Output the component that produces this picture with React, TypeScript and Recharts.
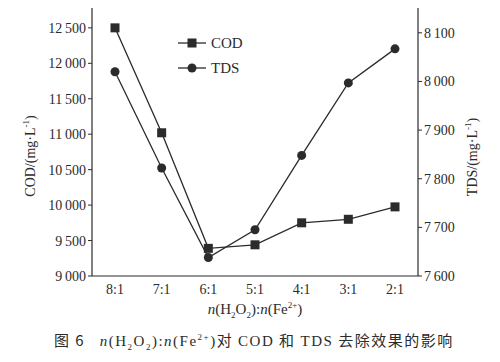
import React from "react";
import { LineChart, Line, XAxis, YAxis } from "recharts";

const ratios = ["8:1", "7:1", "6:1", "5:1", "4:1", "3:1", "2:1"];
const codValues = [12500, 11020, 9390, 9440, 9750, 9800, 9975];
const tdsValues = [8020, 7822, 7638, 7695, 7848, 7997, 8067];
const codTicks = [9000, 9500, 10000, 10500, 11000, 11500, 12000, 12500];
const tdsTicks = [7600, 7700, 7800, 7900, 8000, 8100];

const data = ratios.map((r, i) => ({ ratio: r, COD: codValues[i], TDS: tdsValues[i] }));

const INK = "#2b2b2b";
const FONT = "'Liberation Serif', 'DejaVu Serif', serif";

const fmt = (v: number) => {
  const s = String(v);
  return s.length > 3 ? s.slice(0, s.length - 3) + "\u2009" + s.slice(-3) : s;
};

const SquareDot = (props: any) => {
  const { cx, cy } = props;
  if (cx == null || cy == null) return null;
  return <rect x={cx - 4.5} y={cy - 4.5} width={9} height={9} fill={INK} />;
};

const CircleDot = (props: any) => {
  const { cx, cy } = props;
  if (cx == null || cy == null) return null;
  return <circle cx={cx} cy={cy} r={4.5} fill={INK} />;
};

const LegendBox = () => (
  <svg width={80} height={50}>
    <line x1={0} y1={10} x2={28} y2={10} stroke={INK} strokeWidth={1.3} />
    <rect x={9.5} y={5.5} width={9} height={9} fill={INK} />
    <text x={33} y={15} fontSize={15} fill={INK} style={{ fontFamily: FONT }}>COD</text>
    <line x1={0} y1={35} x2={28} y2={35} stroke={INK} strokeWidth={1.3} />
    <circle cx={14} cy={35} r={4.5} fill={INK} />
    <text x={33} y={40} fontSize={15} fill={INK} style={{ fontFamily: FONT }}>TDS</text>
  </svg>
);

const Ratio = () => (
  <span style={{ fontFamily: FONT }}>
    <i>n</i>(H<sub style={{ fontSize: 9 }}>2</sub>O<sub style={{ fontSize: 9 }}>2</sub>):<i>n</i>(Fe<sup style={{ fontSize: 9 }}>2+</sup>)
  </span>
);

export default function App() {
  const tickStyle = { fontSize: 14, fill: INK, fontFamily: "Liberation Serif", style: { fontFamily: FONT } };
  return (
    <div style={{ position: "absolute", left: 0, top: 0, width: 500, height: 362, background: "#fff", fontFamily: FONT, color: INK }}>
      <style>{`body{margin:0} .recharts-wrapper svg text{font-family:'Liberation Serif','DejaVu Serif',serif !important}`}</style>
      <LineChart width={500} height={300} data={data} margin={{ top: 8, right: 22, left: 32, bottom: 0 }}>
        <XAxis
          dataKey="ratio"
          padding={{ left: 23, right: 23 }}
          height={24}
          tick={tickStyle}
          tickLine={false}
          axisLine={{ stroke: INK, strokeWidth: 1.2 }}
          interval={0}
        />
        <YAxis
          yAxisId="cod"
          orientation="left"
          width={60}
          domain={[9000, 12780]}
          ticks={codTicks}
          tickFormatter={fmt}
          tick={tickStyle}
          tickSize={4}
          tickLine={{ stroke: INK }}
          axisLine={{ stroke: INK, strokeWidth: 1.2 }}
          allowDataOverflow
        />
        <YAxis
          yAxisId="tds"
          orientation="right"
          width={60}
          domain={[7600, 8151]}
          ticks={tdsTicks}
          tickFormatter={fmt}
          tick={tickStyle}
          tickSize={4}
          tickLine={{ stroke: INK }}
          axisLine={{ stroke: INK, strokeWidth: 1.2 }}
          allowDataOverflow
        />
        <Line yAxisId="cod" dataKey="COD" type="linear" stroke={INK} strokeWidth={1.3} dot={<SquareDot />} activeDot={false} isAnimationActive={false} />
        <Line yAxisId="tds" dataKey="TDS" type="linear" stroke={INK} strokeWidth={1.3} dot={<CircleDot />} activeDot={false} isAnimationActive={false} />
      </LineChart>

      <div style={{ position: "absolute", left: 178, top: 33 }}>
        <LegendBox />
      </div>

      <div style={{ position: "absolute", left: 30, top: 156, transform: "translate(-50%, -50%) rotate(-90deg)", whiteSpace: "nowrap", fontSize: 14 }}>
        COD/(mg·L<sup style={{ fontSize: 9 }}>-1</sup>)
      </div>
      <div style={{ position: "absolute", left: 472, top: 157, transform: "translate(-50%, -50%) rotate(-90deg)", whiteSpace: "nowrap", fontSize: 14 }}>
        TDS/(mg·L<sup style={{ fontSize: 9 }}>-1</sup>)
      </div>

      <div style={{ position: "absolute", left: 255, top: 310, transform: "translate(-50%, -50%)", whiteSpace: "nowrap", fontSize: 15 }}>
        <Ratio />
      </div>

      <div style={{ position: "absolute", left: 54, top: 340, transform: "translateY(-50%)", whiteSpace: "nowrap", fontSize: 15, letterSpacing: 1.5, fontFamily: "'Noto Sans CJK SC', sans-serif" }}>
        图 6&nbsp;&nbsp;&nbsp;<Ratio />对 <span style={{ fontFamily: FONT }}>COD</span> 和 <span style={{ fontFamily: FONT }}>TDS</span> 去除效果的影响
      </div>
    </div>
  );
}
